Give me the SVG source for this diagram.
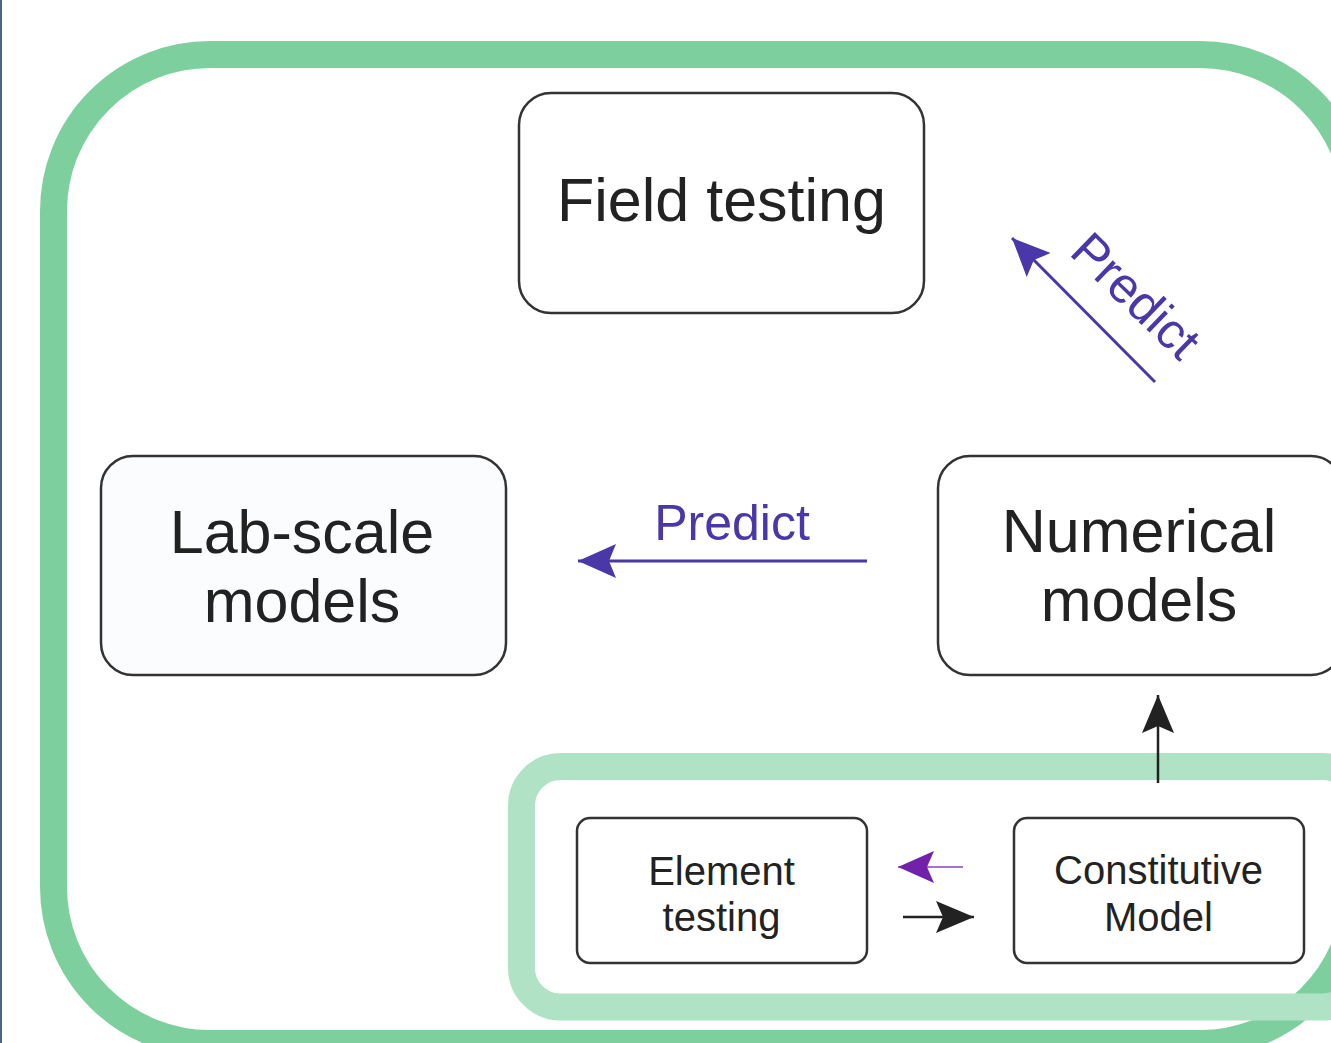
<svg xmlns="http://www.w3.org/2000/svg" width="1331" height="1043" viewBox="0 0 1331 1043">
<style>
.box{fill:#ffffff;stroke:#333333;stroke-width:2.5}
.big{font-family:"Liberation Sans",Arial,sans-serif;font-size:61px;fill:#222222;text-anchor:middle}
.small{font-family:"Liberation Sans",Arial,sans-serif;font-size:40px;fill:#222222;text-anchor:middle}
.pred{font-family:"Liberation Sans",Arial,sans-serif;font-size:50px;fill:#4a37a8;text-anchor:middle}
</style>
<defs>
<marker id="hPred" markerWidth="38" markerHeight="34" refX="38" refY="17" orient="auto" markerUnits="userSpaceOnUse">
<path d="M38,17 L0,0 L7,17 L0,34 Z" fill="#4a37a8"/>
</marker>
<marker id="hPurple" markerWidth="36" markerHeight="32" refX="36" refY="16" orient="auto" markerUnits="userSpaceOnUse">
<path d="M36,16 L0,0 L7,16 L0,32 Z" fill="#7222aa"/>
</marker>
<marker id="hBlack" markerWidth="38" markerHeight="32" refX="38" refY="16" orient="auto" markerUnits="userSpaceOnUse">
<path d="M38,16 L0,0 L7,16 L0,32 Z" fill="#222222"/>
</marker>
</defs>
<rect x="0" y="0" width="1331" height="1043" fill="#ffffff"/>
<rect x="0" y="0" width="2" height="1043" fill="#4a6489"/>
<g id="outer-frame">
<rect x="53.5" y="54.5" width="1303" height="989" rx="156.5" ry="156.5" fill="none" stroke="#7dcf9e" stroke-width="27"/>
</g>
<g id="inner-frame">
<rect x="521.5" y="766.5" width="840" height="240.5" rx="39" ry="39" fill="none" stroke="#b0e3c5" stroke-width="27"/>
</g>
<g id="field-testing">
<rect class="box" x="519" y="93" width="405" height="220" rx="32" ry="32"/>
<text class="big" x="721.5" y="221">Field testing</text>
</g>
<g id="lab-scale-models">
<rect class="box" x="101" y="456" width="405" height="219" rx="32" ry="32" style="fill:#fafcfe"/>
<text class="big" x="302" y="553">Lab-scale</text>
<text class="big" x="302" y="622">models</text>
</g>
<g id="numerical-models">
<rect class="box" x="938" y="456" width="405" height="219" rx="32" ry="32"/>
<text class="big" x="1139" y="552">Numerical</text>
<text class="big" x="1139" y="621">models</text>
</g>
<g id="element-testing">
<rect class="box" x="577" y="818" width="290" height="145" rx="13" ry="13"/>
<text class="small" x="721.5" y="885">Element</text>
<text class="small" x="721.5" y="931">testing</text>
</g>
<g id="constitutive-model">
<rect class="box" x="1014" y="818" width="290" height="145" rx="13" ry="13"/>
<text class="small" x="1158.5" y="884">Constitutive</text>
<text class="small" x="1158.5" y="931">Model</text>
</g>
<g id="connectors">
<line x1="867" y1="561" x2="578" y2="561" stroke="#4a37a8" stroke-width="3" marker-end="url(#hPred)"/>
<line x1="1155" y1="382" x2="1012" y2="238" stroke="#4a37a8" stroke-width="3" marker-end="url(#hPred)"/>
<line x1="1158" y1="783" x2="1158" y2="695" stroke="#222222" stroke-width="2.5" marker-end="url(#hBlack)"/>
<line x1="963" y1="867" x2="898" y2="867" stroke="#a472d2" stroke-width="2" marker-end="url(#hPurple)"/>
<line x1="903" y1="917" x2="974" y2="917" stroke="#222222" stroke-width="2.5" marker-end="url(#hBlack)"/>
</g>
<g id="labels">
<text class="pred" x="732" y="540">Predict</text>
<text class="pred" transform="translate(1124,308) rotate(44)" x="0" y="0">Predict</text>
</g>
</svg>
